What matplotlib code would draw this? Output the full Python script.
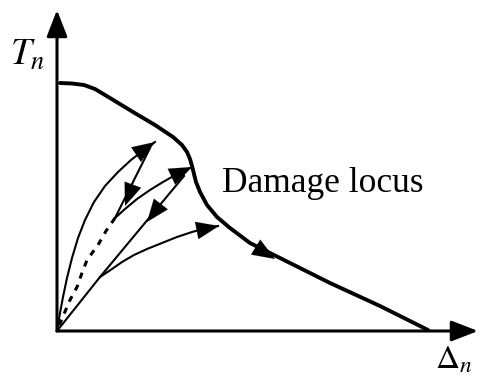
"""Cohesive traction-separation schematic with damage locus and load/unload paths."""

import matplotlib
matplotlib.use("Agg")
import matplotlib.pyplot as plt

plt.rcParams["mathtext.fontset"] = "stix"

# damage locus (separation, traction)
locus_x = [3, 15, 27, 38, 53, 76, 98, 116, 125, 130, 133, 135, 137, 139, 143, 150, 160, 173, 193, 223, 273, 323, 371]
locus_y = [248, 247.5, 246, 242, 233, 219, 206, 194, 186, 179, 172, 165, 157, 149, 139, 126, 114, 103, 88, 73, 48, 25, 1]

# first loading path from the origin
load1_x = [0, 1, 3, 6, 10, 15, 21, 28, 37, 48, 61, 74, 87, 98]
load1_y = [0, 6, 18, 34, 53, 73, 93, 111, 129, 145, 159, 171, 181, 189]

# first unloading (solid part, then dashed back to origin)
unload1_x = [93, 58]
unload1_y = [183, 113]
unload1_dash_x = [58, 49, 41, 30, 25, 20, 13, 1]
unload1_dash_y = [113, 100, 86, 71, 58, 44, 31, 3]

# reloading up to the locus
load2_x = [58, 68, 80, 93, 106, 120, 133]
load2_y = [113, 122, 132, 141, 149, 157, 163]

# second unloading straight back to origin
unload2_x = [127, 43, 0]
unload2_y = [155, 54, 0]

# third loading branch reaching the softening part
load3_x = [43, 55, 65, 77, 90, 105, 120, 135, 150, 161]
load3_y = [54, 62, 69, 76, 82, 88, 94, 99, 103, 105]

fig = plt.figure(figsize=(4.81, 3.76), dpi=100)
ax = fig.add_axes([0, 0, 1, 1])
ax.set_xlim(-57, 424)
ax.set_ylim(-45, 331)
ax.axis("off")

head = dict(arrowstyle="-|>,head_length=0.9,head_width=0.35", color="black",
            lw=1.5, shrinkA=0, shrinkB=0, mutation_scale=18)


def arrow(x0, y0, x1, y1, **kw):
    props = dict(head)
    props.update(kw)
    ax.annotate("", xy=(x1, y1), xytext=(x0, y0), arrowprops=props)


# axes
arrow(0, 0, 0, 321, lw=2.2)
arrow(0, 0, 421, 0, lw=2.2)
ax.text(-29, 276, r"$T_n$", fontsize=27, ha="center", va="center")
ax.text(397, -28, r"$\Delta_n$", fontsize=24, ha="center", va="center")

ax.plot(locus_x, locus_y, color="black", lw=2.8, solid_capstyle="round", solid_joinstyle="round")
arrow(205, 80, 218, 72, lw=0.1)

ax.plot(load1_x, load1_y, color="black", lw=1.5, solid_joinstyle="round")
arrow(80, 177, 98, 189, lw=0.1)

ax.plot(unload1_x, unload1_y, color="black", lw=1.5)
arrow(78, 152, 68, 125, lw=0.1)
ax.plot(unload1_dash_x, unload1_dash_y, color="black", lw=2.2, dashes=(2.0, 2.2))

ax.plot(load2_x, load2_y, color="black", lw=1.5, solid_joinstyle="round")
arrow(118, 156, 135, 164, lw=0.1)

ax.plot(unload2_x, unload2_y, color="black", lw=1.5)
arrow(100, 122, 90, 109, lw=0.1)

ax.plot(load3_x, load3_y, color="black", lw=1.5, solid_joinstyle="round")
arrow(142, 101, 162, 105, lw=0.1)

ax.text(165, 139, "Damage locus", fontsize=25.5, family="Liberation Serif", ha="left", va="baseline")

fig.savefig("out.png", dpi=100)
